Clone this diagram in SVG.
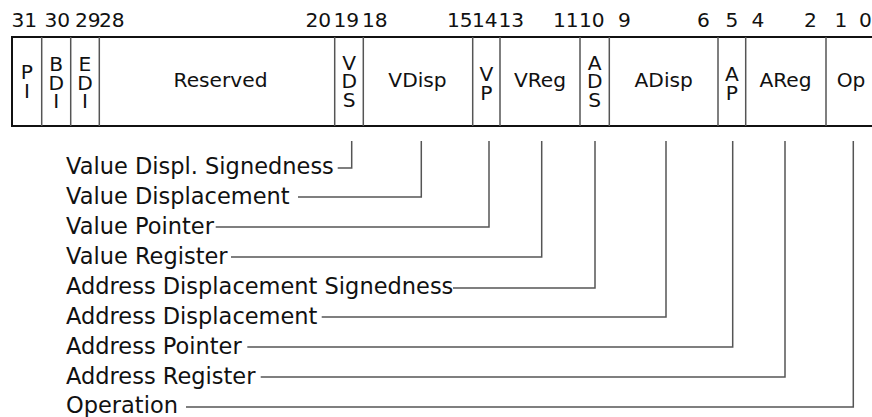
<svg xmlns="http://www.w3.org/2000/svg" width="872" height="417" viewBox="0 0 872 417">
  <style>
    text { font-family: "DejaVu Sans", "Liberation Sans", sans-serif; fill: #111; }
    .bit { font-size: 20.2px; }
    .field { font-size: 20.2px; text-anchor: middle; }
    .desc { font-size: 22.5px; }
    .frame { fill: #fff; stroke: #111; stroke-width: 2; }
    .div { stroke: #555; stroke-width: 1.5; }
    .conn { fill: none; stroke: #555; stroke-width: 1.5; }
  </style>
  <rect width="872" height="417" fill="#fff"/>

  <!-- bit positions -->
  <g id="bit-numbers" class="bit">
    <text x="11.5" y="27">31</text>
    <text x="44.5" y="27">30</text>
    <text x="75" y="27">29</text>
    <text x="99" y="27">28</text>
    <text x="305.5" y="27">20</text>
    <text x="333.5" y="27">19</text>
    <text x="362" y="27">18</text>
    <text x="447" y="27">15</text>
    <text x="472" y="27">14</text>
    <text x="498.5" y="27">13</text>
    <text x="553" y="27">11</text>
    <text x="579" y="27">10</text>
    <text x="618" y="27">9</text>
    <text x="697" y="27">6</text>
    <text x="725.5" y="27">5</text>
    <text x="751.5" y="27">4</text>
    <text x="804" y="27">2</text>
    <text x="834.5" y="27">1</text>
    <text x="859" y="27">0</text>
  </g>

  <!-- register frame -->
  <g id="register">
    <rect class="frame" x="12" y="37" width="866" height="89"/>
    <line class="div" x1="41.7" y1="37" x2="41.7" y2="126"/>
    <line class="div" x1="70.7" y1="37" x2="70.7" y2="126"/>
    <line class="div" x1="99.3" y1="37" x2="99.3" y2="126"/>
    <line class="div" x1="334.7" y1="37" x2="334.7" y2="126"/>
    <line class="div" x1="363.3" y1="37" x2="363.3" y2="126"/>
    <line class="div" x1="472.7" y1="37" x2="472.7" y2="126"/>
    <line class="div" x1="500" y1="37" x2="500" y2="126"/>
    <line class="div" x1="580" y1="37" x2="580" y2="126"/>
    <line class="div" x1="609.3" y1="37" x2="609.3" y2="126"/>
    <line class="div" x1="718" y1="37" x2="718" y2="126"/>
    <line class="div" x1="745.7" y1="37" x2="745.7" y2="126"/>
    <line class="div" x1="826" y1="37" x2="826" y2="126"/>
  </g>

  <!-- field names (narrow fields are written one letter per line) -->
  <g id="field-PI" class="field">
    <text x="26.9" y="79">P<tspan x="26.9" dy="18.5">I</tspan></text>
  </g>
  <g id="field-BDI" class="field">
    <text x="56.2" y="71">B<tspan x="56.2" dy="18.5">D</tspan><tspan x="56.2" dy="18.5">I</tspan></text>
  </g>
  <g id="field-EDI" class="field">
    <text x="85" y="71">E<tspan x="85" dy="18.5">D</tspan><tspan x="85" dy="18.5">I</tspan></text>
  </g>
  <g id="field-Reserved" class="field">
    <text x="220.5" y="87.3">Reserved</text>
  </g>
  <g id="field-VDS" class="field">
    <text x="349.2" y="70">V<tspan x="349.2" dy="18.3">D</tspan><tspan x="349.2" dy="18.3">S</tspan></text>
  </g>
  <g id="field-VDisp" class="field">
    <text x="417.5" y="87.3">VDisp</text>
  </g>
  <g id="field-VP" class="field">
    <text x="486.3" y="81">V<tspan x="486.3" dy="19">P</tspan></text>
  </g>
  <g id="field-VReg" class="field">
    <text x="540" y="87.3">VReg</text>
  </g>
  <g id="field-ADS" class="field">
    <text x="594.7" y="70">A<tspan x="594.7" dy="18.3">D</tspan><tspan x="594.7" dy="18.3">S</tspan></text>
  </g>
  <g id="field-ADisp" class="field">
    <text x="663.7" y="87.3">ADisp</text>
  </g>
  <g id="field-AP" class="field">
    <text x="731.8" y="81">A<tspan x="731.8" dy="19">P</tspan></text>
  </g>
  <g id="field-AReg" class="field">
    <text x="785.5" y="87.3">AReg</text>
  </g>
  <g id="field-Op" class="field">
    <text x="851" y="87.3">Op</text>
  </g>

  <!-- leader lines from fields to descriptions -->
  <g id="connectors" class="conn">
    <polyline points="337.7,168 351.7,168 351.7,141"/>
    <polyline points="298,197 421.3,197 421.3,141"/>
    <polyline points="215.7,227 489,227 489,141"/>
    <polyline points="231,257 541.7,257 541.7,141"/>
    <polyline points="453,288 595,288 595,141"/>
    <polyline points="321.7,317 666,317 666,141"/>
    <polyline points="247.3,347 732.7,347 732.7,141"/>
    <polyline points="260.7,377 785,377 785,141"/>
    <polyline points="186,407 853.3,407 853.3,141"/>
  </g>

  <!-- descriptions -->
  <g id="descriptions" class="desc">
    <text x="66" y="174">Value Displ. Signedness</text>
    <text x="66" y="203.5">Value Displacement</text>
    <text x="66" y="233.5">Value Pointer</text>
    <text x="66" y="263.5">Value Register</text>
    <text x="66" y="294">Address Displacement Signedness</text>
    <text x="66" y="323.5">Address Displacement</text>
    <text x="66" y="353.5">Address Pointer</text>
    <text x="66" y="383.5">Address Register</text>
    <text x="66" y="412.5">Operation</text>
  </g>
</svg>
